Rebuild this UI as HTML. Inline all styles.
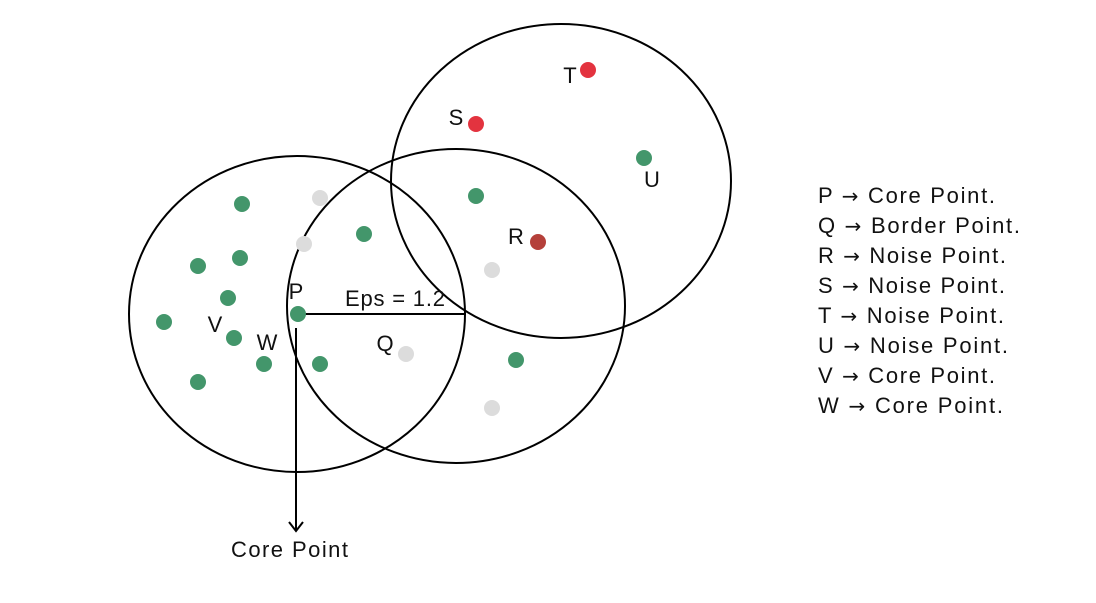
<!DOCTYPE html>
<html><head><meta charset="utf-8"><style>
html,body{margin:0;padding:0;background:#fff}
svg text{font-family:"Liberation Sans",sans-serif;font-size:22px;fill:#111}
svg text tspan.ar{font-family:"DejaVu Sans",sans-serif;font-size:20px}
</style></head><body>
<svg width="1096" height="598" viewBox="0 0 1096 598">
<g id="circles" fill="none" stroke="#000" stroke-width="2"></g>
<line x1="298" y1="314" x2="466" y2="314" stroke="#000" stroke-width="2"/>
<line x1="296" y1="328" x2="296" y2="530" stroke="#000" stroke-width="2"/>
<path d="M289,522 L296,531 L303,522" fill="none" stroke="#000" stroke-width="2"/>
<g id="points"></g>
<g id="labels"></g>
<text x="345" y="306" textLength="100" lengthAdjust="spacing">Eps = 1.2</text>
<text x="231" y="557" textLength="117" lengthAdjust="spacing">Core Point</text>
<g id="legend"></g>
</svg>
<script>
const circleCx=[297,456,561];
const circleCy=[314,306,181];
const circleRx=[168,169,170];
const circleRy=[158,157,157];
const pointX=[242,240,198,228,164,234,198,264,298,320,364,476,516,644,320,304,492,406,492,476,588,538];
const pointY=[204,258,266,298,322,338,382,364,314,364,234,196,360,158,198,244,270,354,408,124,70,242];
const pointType=["g","g","g","g","g","g","g","g","g","g","g","g","g","g","n","n","n","n","n","r","r","d"];
const labelText=["P","V","W","Q","R","S","T","U"];
const labelX=[296,215,267,385,516,456,570,652];
const labelY=[299,332,350,351,244,125,83,187];
const legendLetters=["P","Q","R","S","T","U","V","W"];
const legendDesc=["Core Point.","Border Point.","Noise Point.","Noise Point.","Noise Point.","Noise Point.","Core Point.","Core Point."];
const legendWidths=[177,202,188,187,186,190,177,185];
const NS="http://www.w3.org/2000/svg";
const colors={g:"#43966b",n:"#dcdcdc",r:"#e3333f",d:"#b5403a"};
const cg=document.getElementById('circles');
for(let i=0;i<circleCx.length;i++){
  const e=document.createElementNS(NS,'ellipse');
  e.setAttribute('cx',circleCx[i]);e.setAttribute('cy',circleCy[i]);
  e.setAttribute('rx',circleRx[i]);e.setAttribute('ry',circleRy[i]);
  
  
  cg.appendChild(e);
}
const pg=document.getElementById('points');
for(let i=0;i<pointX.length;i++){
  const c=document.createElementNS(NS,'circle');
  c.setAttribute('cx',pointX[i]);c.setAttribute('cy',pointY[i]);c.setAttribute('r',8);
  c.setAttribute('fill',colors[pointType[i]]);
  
  
  pg.appendChild(c);
}
const lg=document.getElementById('labels');
for(let i=0;i<labelText.length;i++){
  const t=document.createElementNS(NS,'text');
  t.setAttribute('x',labelX[i]);t.setAttribute('y',labelY[i]);t.setAttribute('text-anchor','middle');
  t.textContent=labelText[i];
  
  
  lg.appendChild(t);
}
const leg=document.getElementById('legend');
for(let i=0;i<legendLetters.length;i++){
  const t=document.createElementNS(NS,'text');
  t.setAttribute('x',818);t.setAttribute('y',203+i*30);
  t.setAttribute('textLength',legendWidths[i]);t.setAttribute('lengthAdjust','spacing');
  
  
  t.innerHTML=legendLetters[i]+' <tspan class="ar">→</tspan> '+legendDesc[i];
  leg.appendChild(t);
}
</script>
</body></html>
